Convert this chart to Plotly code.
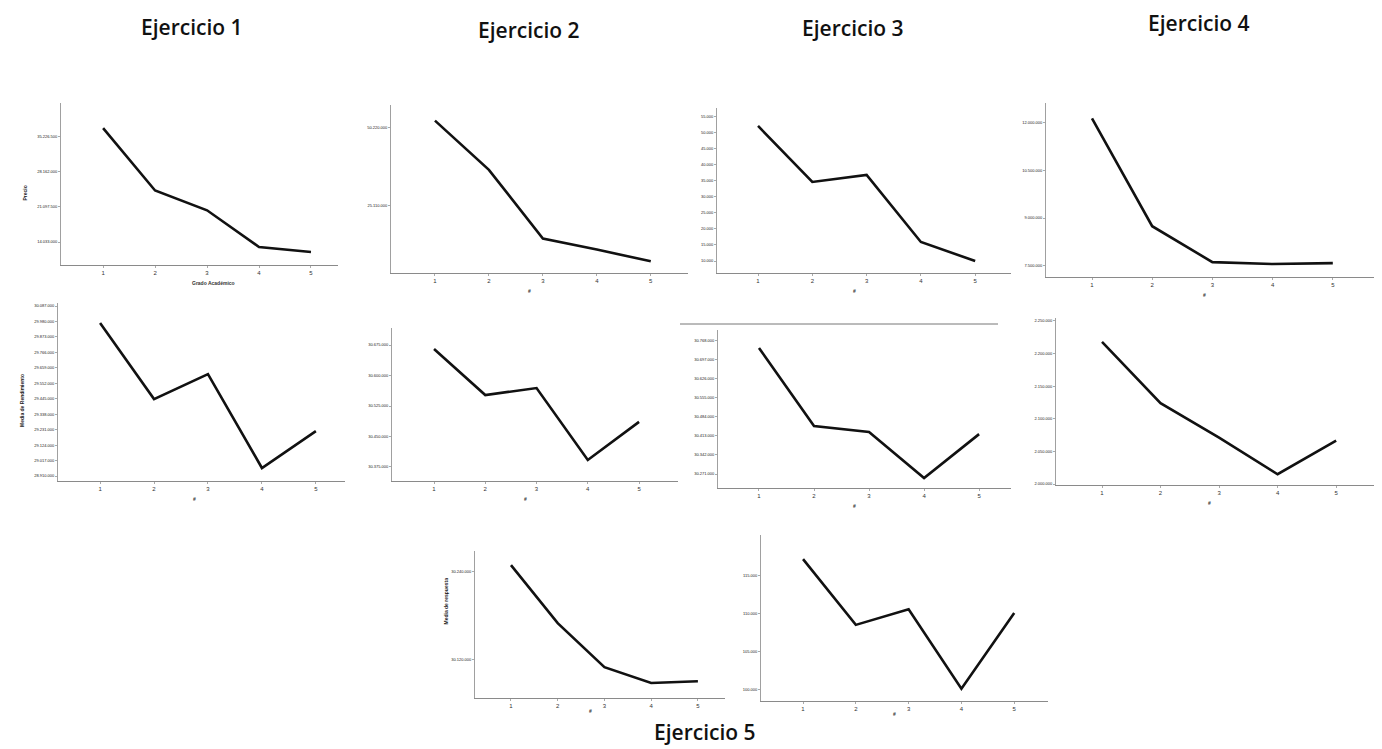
import plotly.graph_objects as go

W, H = 1382, 749

# ---------------- data (in tick units) ----------------
x_vals = [1, 2, 3, 4, 5]
x_ticktext = ["1", "2", "3", "4", "5"]

ej1_top = [4.23, 2.46, 1.90, 0.86, 0.72]
ej2_top = [2.09, 1.46, 0.58, 0.44, 0.29]
ej3_top = [9.44, 5.94, 6.38, 2.19, 1.00]
ej4_top = [4.08, 1.83, 1.08, 1.04, 1.06]
ej1_bot = [9.90, 4.98, 6.60, 0.52, 2.91]
ej2_bot = [4.87, 3.36, 3.59, 1.23, 2.48]
ej3_bot = [7.60, 3.51, 3.20, 0.79, 3.09]
ej4_bot = [4.36, 2.48, 1.42, 0.30, 1.33]
ej5_left = [2.07, 1.41, 0.91, 0.73, 0.75]
ej5_right = [4.42, 2.70, 3.11, 1.03, 3.01]

ej1_top_ticks = ["14.033.000", "21.097.500", "28.162.000", "35.226.500"]
ej2_top_ticks = ["25.110.000", "50.220.000"]
ej3_top_ticks = ["10.000", "15.000", "20.000", "25.000", "30.000",
                 "35.000", "40.000", "45.000", "50.000", "55.000"]
ej4_top_ticks = ["7.500.000", "9.000.000", "10.500.000", "12.000.000"]
ej1_bot_ticks = ["28.910.000", "29.017.000", "29.124.000", "29.231.000", "29.338.000",
                 "29.445.000", "29.552.000", "29.659.000", "29.766.000", "29.873.000",
                 "29.980.000", "30.087.000"]
ej2_bot_ticks = ["30.375.000", "30.450.000", "30.525.000", "30.600.000", "30.675.000"]
ej3_bot_ticks = ["30.271.000", "30.342.000", "30.413.000", "30.484.000",
                 "30.555.000", "30.626.000", "30.697.000", "30.768.000"]
ej4_bot_ticks = ["2.000.000", "2.050.000", "2.100.000", "2.150.000", "2.200.000", "2.250.000"]
ej5_left_ticks = ["30.120.000", "30.240.000"]
ej5_right_ticks = ["100.000", "105.000", "110.000", "115.000"]

# ---------------- layout configuration (pixel boxes / ranges) ----------------
panels = [
    dict(y=ej1_top, tt=ej1_top_ticks, t0=1, px=(53, 330), py=(95, 257), xr=(0.19, 5.52), yr=(0.35, 4.94), xt="Grado Académico"),
    dict(y=ej2_top, tt=ej2_top_ticks, t0=1, px=(383, 680), py=(97, 265), xr=(0.185, 5.69), yr=(0.14, 2.29), xt="#"),
    dict(y=ej3_top, tt=ej3_top_ticks, t0=1, px=(709, 1003), py=(100, 265), xr=(0.244, 5.66), yr=(0.25, 10.56), xt="#"),
    dict(y=ej4_top, tt=ej4_top_ticks, t0=1, px=(1038, 1382), py=(95, 269), xr=(0.236, 5.95), yr=(0.77, 4.40), xt="#"),
    dict(y=ej1_bot, tt=ej1_bot_ticks, t0=0, px=(50, 337), py=(295, 473), xr=(0.22, 5.54), yr=(-0.32, 11.2), xt="#"),
    dict(y=ej2_bot, tt=ej2_bot_ticks, t0=1, px=(384, 670), py=(320, 473), xr=(0.18, 5.76), yr=(0.54, 5.56), xt="#"),
    dict(y=ej3_bot, tt=ej3_bot_ticks, t0=1, px=(710, 1003), py=(322, 480), xr=(0.255, 5.58), yr=(0.27, 8.54), xt="#"),
    dict(y=ej4_bot, tt=ej4_bot_ticks, t0=0, px=(1048, 1382), py=(310, 477), xr=(0.214, 5.92), yr=(-0.03, 5.09), xt="#"),
    dict(y=ej5_left, tt=ej5_left_ticks, t0=1, px=(467, 717), py=(543, 690), xr=(0.23, 5.58), yr=(0.56, 2.23), xt="#"),
    dict(y=ej5_right, tt=ej5_right_ticks, t0=1, px=(753, 1040), py=(527, 693), xr=(0.204, 5.64), yr=(0.71, 5.05), xt="#"),
]

fig = go.Figure()
annotations = []

def px2x(p):
    return p / W

def py2y(p):
    return 1 - p / H

for i, p in enumerate(panels, start=1):
    xa = "x" if i == 1 else f"x{i}"
    ya = "y" if i == 1 else f"y{i}"
    fig.add_trace(go.Scatter(
        x=x_vals, y=p["y"], mode="lines",
        line=dict(color="#111111", width=2.6),
        xaxis=xa, yaxis=ya, showlegend=False, hoverinfo="skip",
    ))
    key = "" if i == 1 else str(i)
    tickvals = [p["t0"] + k for k in range(len(p["tt"]))]
    fig.update_layout(**{
        f"xaxis{key}": dict(
            domain=[px2x(p["px"][0]), px2x(p["px"][1])],
            range=list(p["xr"]), anchor=ya,
            tickvals=x_vals, ticktext=x_ticktext,
            tickfont=dict(size=6, color="#333333", family="Liberation Sans"),
            showgrid=False, zeroline=False, showline=True,
            linecolor="#8a8a8a", linewidth=1.3,
            ticks="outside", ticklen=2, tickcolor="#aaaaaa",
        ),
        f"yaxis{key}": dict(
            domain=[py2y(p["py"][1]), py2y(p["py"][0])],
            range=list(p["yr"]), anchor=xa,
            tickvals=tickvals, ticktext=p["tt"],
            tickfont=dict(size=4, color="#222222", family="Liberation Sans"),
            showgrid=False, zeroline=False, showline=True,
            linecolor="#a0a0a0", linewidth=1,
            ticks="outside", ticklen=2, tickcolor="#aaaaaa",
        ),
    })
    cx = (p["px"][0] + p["px"][1]) / 2 - 10
    annotations.append(dict(
        text=f"<b>{p['xt']}</b>", x=px2x(cx), y=py2y(p["py"][1] + 18),
        xref="paper", yref="paper", showarrow=False,
        font=dict(size=5, color="#333333", family="Liberation Sans"),
    ))

# y-axis titles
annotations.append(dict(text="<b>Precio</b>", x=px2x(12), y=py2y(176), xref="paper", yref="paper",
                        showarrow=False, textangle=-90, font=dict(size=5, color="#222222", family="Liberation Sans")))
annotations.append(dict(text="<b>Media de Rendimiento</b>", x=px2x(9), y=py2y(393), xref="paper", yref="paper",
                        showarrow=False, textangle=-90, font=dict(size=5, color="#222222", family="Liberation Sans")))
annotations.append(dict(text="<b>Media de respuesta</b>", x=px2x(432), y=py2y(618), xref="paper", yref="paper",
                        showarrow=False, textangle=-90, font=dict(size=5, color="#222222", family="Liberation Sans")))

# section titles
title_font = dict(size=21, color="#111111", family="Open Sans", weight=600)
for txt, cx, cy in [("Ejercicio 1", 184, 19), ("Ejercicio 2", 521, 22),
                    ("Ejercicio 3", 845, 20), ("Ejercicio 4", 1191, 15),
                    ("Ejercicio 5", 697, 724)]:
    annotations.append(dict(text=txt, x=px2x(cx), y=py2y(cy), xref="paper", yref="paper",
                            showarrow=False, font=title_font, xanchor="center", yanchor="middle"))

fig.update_layout(
    width=W, height=H,
    margin=dict(l=0, r=0, t=0, b=0),
    paper_bgcolor="white", plot_bgcolor="white",
    annotations=annotations,
    shapes=[dict(type="line", xref="paper", yref="paper",
                 x0=px2x(672), x1=px2x(990), y0=py2y(316), y1=py2y(316),
                 line=dict(color="#777777", width=1))],
)

fig.write_html("out.html")
